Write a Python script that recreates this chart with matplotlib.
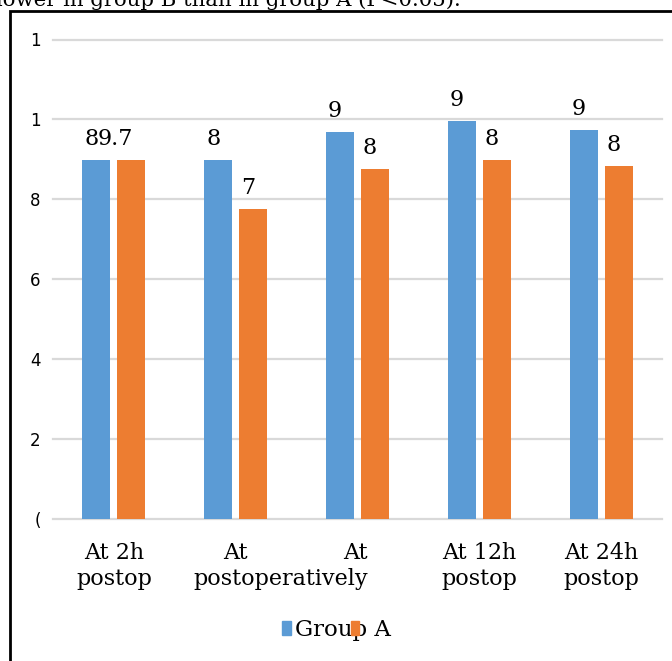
import matplotlib.pyplot as plt
import matplotlib.patches as mpatches
import numpy as np

# valeurs des deux groupes a chaque temps
periods = ["At 2h\npostop", "At", "", "At 12h\npostop", "At 24h\npostop"]
group_a = [8.98, 8.98, 9.69, 9.96, 9.74]
group_b = [8.97, 7.76, 8.76, 8.98, 8.83]
labels_a = ["8", "8", "9", "9", "9"]
labels_b = ["9.7", "7", "8", "8", "8"]
yticks = [0, 2, 4, 6, 8, 10, 12]
ytick_labels = ["(", "2", "4", "6", "8", "1", "1"]

blue = "#5B9BD5"
orange = "#ED7D31"
serif = "DejaVu Serif"

fig = plt.figure(figsize=(6.72, 6.61), dpi=100)
W, H = 672, 661
ax = fig.add_axes([53 / W, (H - 518.5) / H, (662 - 53) / W, (518.5 - 39.5) / H])

x = np.arange(len(group_a))
w = 0.23
off = 0.143
bars_a = ax.bar(x - off, group_a, w, color=blue)
bars_b = ax.bar(x + off, group_b, w, color=orange)

# etiquettes de valeur au dessus des barres
for bars, labs in [(bars_a, labels_a), (bars_b, labels_b)]:
    for b, lab in zip(bars, labs):
        ax.annotate(lab, (b.get_x() + b.get_width() / 2, b.get_height()),
                    xytext=(1.5, 10.8), textcoords="offset points",
                    ha="right", va="baseline", fontsize=16, family=serif)

ax.set_xlim(-0.5, len(group_a) - 0.5)
ax.set_ylim(0, 12)
ax.set_yticks(yticks)
ax.set_yticklabels(ytick_labels, fontsize=12, family="DejaVu Sans")
ax.set_xticks(x)
ax.set_xticklabels(periods, fontsize=16, family=serif, linespacing=1.25)
ax.tick_params(axis="both", length=0)
ax.tick_params(axis="x", pad=17)
ax.tick_params(axis="y", pad=9)
ax.yaxis.grid(True, color="#d9d9d9", linewidth=1.6)
ax.set_axisbelow(True)
for s in ax.spines.values():
    s.set_visible(False)
for gl in ax.get_ygridlines():
    gl.set_clip_on(False)

# libelle decale du troisieme temps
ax.annotate("At\npostoperatively", (2, 0), xycoords=("data", "axes fraction"),
            xytext=(7.5, -17), textcoords="offset points",
            ha="right", va="top", multialignment="right",
            fontsize=16, family=serif, linespacing=1.25)

# legende
handles = [mpatches.Patch(color=blue), mpatches.Patch(color=orange)]
fig.legend(handles, ["Group A", ""], loc="center",
           bbox_to_anchor=(0.5 - 13 / W, 1 - 630 / H),
           ncol=2, frameon=False, prop={"family": serif, "size": 16.5},
           handlelength=0.36, handleheight=0.6, handletextpad=0.18,
           columnspacing=-1.72)

# cadre et texte coupe en haut
fig.add_artist(mpatches.Rectangle((9.5 / W, -0.1), 1.2, 1 - 11.5 / H + 0.1,
                                  transform=fig.transFigure, fill=False,
                                  edgecolor="black", linewidth=2))
fig.text(-4 / W, 1 - 6 / H, "lower in group B than in group A (P<0.05).",
         fontsize=15.3, family=serif, va="baseline", ha="left")

fig.savefig("out.png", dpi=100)
